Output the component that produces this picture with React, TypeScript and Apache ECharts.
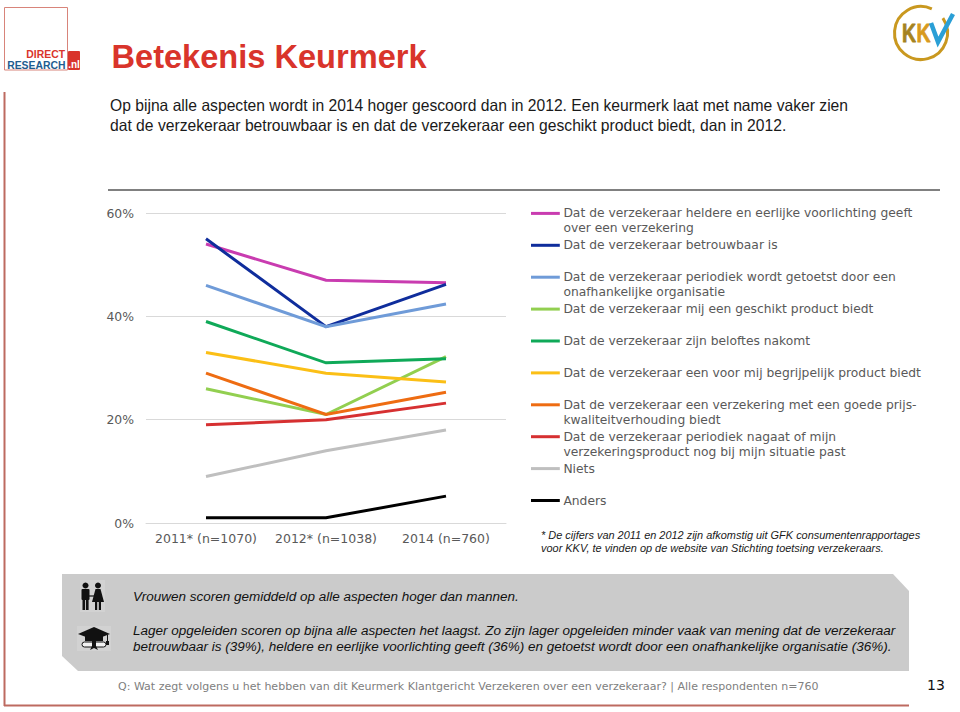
import React, { useEffect, useRef } from "react";
import * as echarts from "echarts";

const categories = ["2011* (n=1070)", "2012* (n=1038)", "2014 (n=760)"];
const seriesNames = [
  "Dat de verzekeraar heldere en eerlijke voorlichting geeft\nover een verzekering",
  "Dat de verzekeraar betrouwbaar is",
  "Dat de verzekeraar periodiek wordt getoetst door een\nonafhankelijke organisatie",
  "Dat de verzekeraar mij een geschikt product biedt",
  "Dat de verzekeraar zijn beloftes nakomt",
  "Dat de verzekeraar een voor mij begrijpelijk product biedt",
  "Dat de verzekeraar een verzekering met een goede prijs-\nkwaliteitverhouding biedt",
  "Dat de verzekeraar periodiek nagaat of mijn\nverzekeringsproduct nog bij mijn situatie past",
  "Niets",
  "Anders",
];
const heldere = [54, 47, 46.5];
const betrouwbaar = [55, 38, 46.2];
const getoetst = [46, 38, 42.4];
const geschikt = [26, 21, 32.2];
const beloftes = [39, 31, 31.8];
const begrijpelijk = [33, 29, 27.3];
const prijs = [29, 21, 25.3];
const nagaat = [19, 20, 23.2];
const niets = [9, 14, 18];
const anders = [1, 1, 5.2];
const seriesValues = [heldere, betrouwbaar, getoetst, geschikt, beloftes, begrijpelijk, prijs, nagaat, niets, anders];
const seriesColors = ["#c93cb0", "#0f2d9c", "#6f9bd8", "#92cf50", "#0fa958", "#fbbf16", "#ee6c12", "#d63031", "#bfbfbf", "#000000"];

const titleText = "Betekenis Keurmerk";
const introLines = [
  "Op bijna alle aspecten wordt in 2014 hoger gescoord dan in 2012. Een keurmerk laat met name vaker zien",
  "dat de verzekeraar betrouwbaar is en dat de verzekeraar een geschikt product biedt, dan in 2012.",
];
const footnoteLines = [
  "* De cijfers van 2011 en 2012 zijn afkomstig uit GFK consumentenrapportages",
  "voor KKV, te vinden op de website van Stichting toetsing verzekeraars.",
];
const panelLines = [
  "Vrouwen scoren gemiddeld op alle aspecten hoger dan mannen.",
  "Lager opgeleiden scoren op bijna alle aspecten het laagst. Zo zijn lager opgeleiden minder vaak van mening dat de verzekeraar",
  "betrouwbaar is (39%), heldere en eerlijke voorlichting geeft (36%) en getoetst wordt door een onafhankelijke organisatie (36%).",
];
const questionText = "Q: Wat zegt volgens u het hebben van dit Keurmerk Klantgericht Verzekeren over een verzekeraar? | Alle respondenten n=760";
const pageNumber = "13";

const SANS = "'Liberation Sans', Arial, sans-serif";
const VERDANA = "'DejaVu Sans', Verdana, sans-serif";

function txt(x: number, y: number, text: string, font: string, size: number, fill: string, extra: any = {}) {
  return {
    type: "text",
    x,
    y,
    silent: true,
    style: { text, fontFamily: font, fontSize: size, fill, verticalAlign: "middle", ...extra },
  };
}
function rect(x: number, y: number, w: number, h: number, fill: string, r = 0) {
  return { type: "rect", silent: true, shape: { x, y, width: w, height: h, r }, style: { fill } };
}
function poly(points: number[][], fill: string) {
  return { type: "polygon", silent: true, shape: { points }, style: { fill } };
}
function seg(x1: number, y1: number, x2: number, y2: number, stroke: string, lineWidth: number) {
  return { type: "line", silent: true, shape: { x1, y1, x2, y2 }, style: { stroke, lineWidth } };
}

function decorations() {
  const frame = "#bd6a60";
  const dark = "#111111";
  return [
    // slide frame
    seg(4.5, 92, 4.5, 706, frame, 2),
    seg(4, 705.5, 909, 705.5, frame, 2),
    // chart top rule
    seg(108, 190, 940, 190, "#808080", 2),
    // Direct Research logo
    { type: "rect", silent: true, shape: { x: 4.5, y: 7.5, width: 63, height: 62.5 }, style: { fill: "none", stroke: "#d8847a", lineWidth: 1 } },
    rect(68, 51, 12, 19, "#d9342b", 1),
    txt(65, 54, "DIRECT", SANS, 10.4, "#d9342b", { fontWeight: "bold", align: "right" }),
    txt(65.5, 65, "RESEARCH", SANS, 10.4, "#1f5c8f", { fontWeight: "bold", align: "right" }),
    txt(74, 64, ".nl", SANS, 10, "#ffffff", { fontWeight: "bold", align: "center" }),
    // KKV logo
    { type: "arc", silent: true, shape: { cx: 921, cy: 33, r: 26.5, startAngle: -0.6, endAngle: -1.15, clockwise: true }, style: { stroke: "#c9981f", lineWidth: 3, fill: "none" } },
    { type: "text", silent: true, x: 902, y: 33.5, scaleX: 0.78, style: { text: "K", fontFamily: SANS, fontSize: 25, fontWeight: "bold", fill: "#a5831f", stroke: "#a5831f", lineWidth: 0.8, verticalAlign: "middle" } },
    { type: "text", silent: true, x: 916.5, y: 33.5, scaleX: 0.78, style: { text: "K", fontFamily: SANS, fontSize: 25, fontWeight: "bold", fill: "#d89a20", stroke: "#d89a20", lineWidth: 0.8, verticalAlign: "middle" } },
    { type: "polyline", silent: true, shape: { points: [[931, 23], [938, 42], [953, 14]] }, style: { stroke: "#2a9fd6", lineWidth: 4.5, fill: "none" } },
    // grey panel
    poly([[62, 574], [893, 574], [909, 591], [909, 671], [78, 671], [62, 656]], "#cbcbcb"),
    // people icon
    rect(80, 580, 25, 32, "#d2d2d2"),
    { type: "circle", silent: true, shape: { cx: 85.5, cy: 585.5, r: 3 }, style: { fill: dark } },
    rect(81.5, 589, 8, 11, dark, 1),
    rect(82.5, 599, 2.6, 11, dark),
    rect(86, 599, 2.6, 11, dark),
    { type: "circle", silent: true, shape: { cx: 98, cy: 585.5, r: 3 }, style: { fill: dark } },
    poly([[95.5, 589], [100.5, 589], [104, 602], [92, 602]], dark),
    rect(95, 601, 2.2, 9, dark),
    rect(98.8, 601, 2.2, 9, dark),
    seg(89, 596, 94, 596, dark, 1.2),
    // graduation icon
    rect(77, 626, 34, 25, "#d2d2d2"),
    poly([[78, 634], [94, 627], [110, 634], [94, 640]], dark),
    poly([[85, 636], [103, 636], [103, 641], [85, 641]], dark),
    seg(107.5, 635, 107.5, 642, dark, 1),
    rect(106, 641, 3, 4, dark),
    { type: "rect", silent: true, shape: { x: 82, y: 642, width: 24, height: 5, r: 2.5 }, style: { fill: "#f2f2f2", stroke: dark, lineWidth: 1 } },
    poly([[92, 641], [96, 641], [96, 646], [98, 650], [94, 648], [90, 650], [92, 646]], dark),
    // texts
    txt(111.5, 56.5, titleText, SANS, 32.6, "#d9342b", { fontWeight: "bold" }),
    txt(110, 105, introLines[0], SANS, 15.66, "#1a1a1a"),
    txt(110, 125, introLines[1], SANS, 15.66, "#1a1a1a"),
    txt(541, 535, footnoteLines[0], SANS, 10.95, "#1a1a1a", { fontStyle: "italic" }),
    txt(541, 548, footnoteLines[1], SANS, 10.95, "#1a1a1a", { fontStyle: "italic" }),
    txt(133, 596, panelLines[0], SANS, 13.49, "#111111", { fontStyle: "italic" }),
    txt(133, 630.5, panelLines[1], SANS, 13.49, "#111111", { fontStyle: "italic" }),
    txt(133, 646.5, panelLines[2], SANS, 13.49, "#111111", { fontStyle: "italic" }),
    txt(118, 686.5, questionText, VERDANA, 11.02, "#808080"),
    txt(927, 685, pageNumber, VERDANA, 14, "#111111"),
  ];
}

export default function App() {
  const ref = useRef<HTMLDivElement>(null);
  useEffect(() => {
    const chart = echarts.init(ref.current!, undefined, { renderer: "svg" });
    const lineH = 15;
    chart.setOption({
      animation: false,
      backgroundColor: "#ffffff",
      grid: { left: 146, right: 454, top: 213, height: 310 },
      xAxis: {
        type: "category",
        data: categories,
        axisLine: { lineStyle: { color: "#d9d9d9", width: 1 } },
        axisTick: { show: false },
        axisLabel: { color: "#595959", fontFamily: VERDANA, fontSize: 12.5, margin: 9, interval: 0 },
      },
      yAxis: {
        type: "value",
        min: 0,
        max: 60,
        interval: 20,
        axisLine: { show: false },
        axisTick: { show: false },
        axisLabel: { color: "#595959", fontFamily: VERDANA, fontSize: 12.4, margin: 12, padding: [0, 0, 2, 0], formatter: "{value}%" },
        splitLine: { lineStyle: { color: "#d9d9d9", width: 1 } },
      },
      legend: seriesNames.map((name, i) => ({
        data: [name],
        orient: "vertical",
        left: 531,
        top: 213.4 + i * 31.9 - (name.includes("\n") ? lineH * 1.5 : lineH * 0.5),
        padding: 0,
        selectedMode: false,
        icon: "rect",
        itemWidth: 26,
        itemHeight: 0.2,
        itemStyle: { borderColor: seriesColors[i], borderWidth: 2.8 },
        formatter: (n: string) => (n.includes("\n") ? "\n" + n : n),
        textStyle: { color: "#595959", fontFamily: VERDANA, fontSize: 12.3, lineHeight: lineH },
      })),
      series: seriesNames.map((name, i) => ({
        name,
        type: "line",
        data: seriesValues[i],
        showSymbol: false,
        symbol: "none",
        smooth: false,
        lineStyle: { color: seriesColors[i], width: 3, cap: "butt", join: "miter" },
        itemStyle: { color: seriesColors[i] },
      })),
      graphic: decorations(),
    });
    return () => chart.dispose();
  }, []);
  return <div ref={ref} style={{ position: "absolute", left: 0, top: 0, width: 960, height: 712 }} />;
}
